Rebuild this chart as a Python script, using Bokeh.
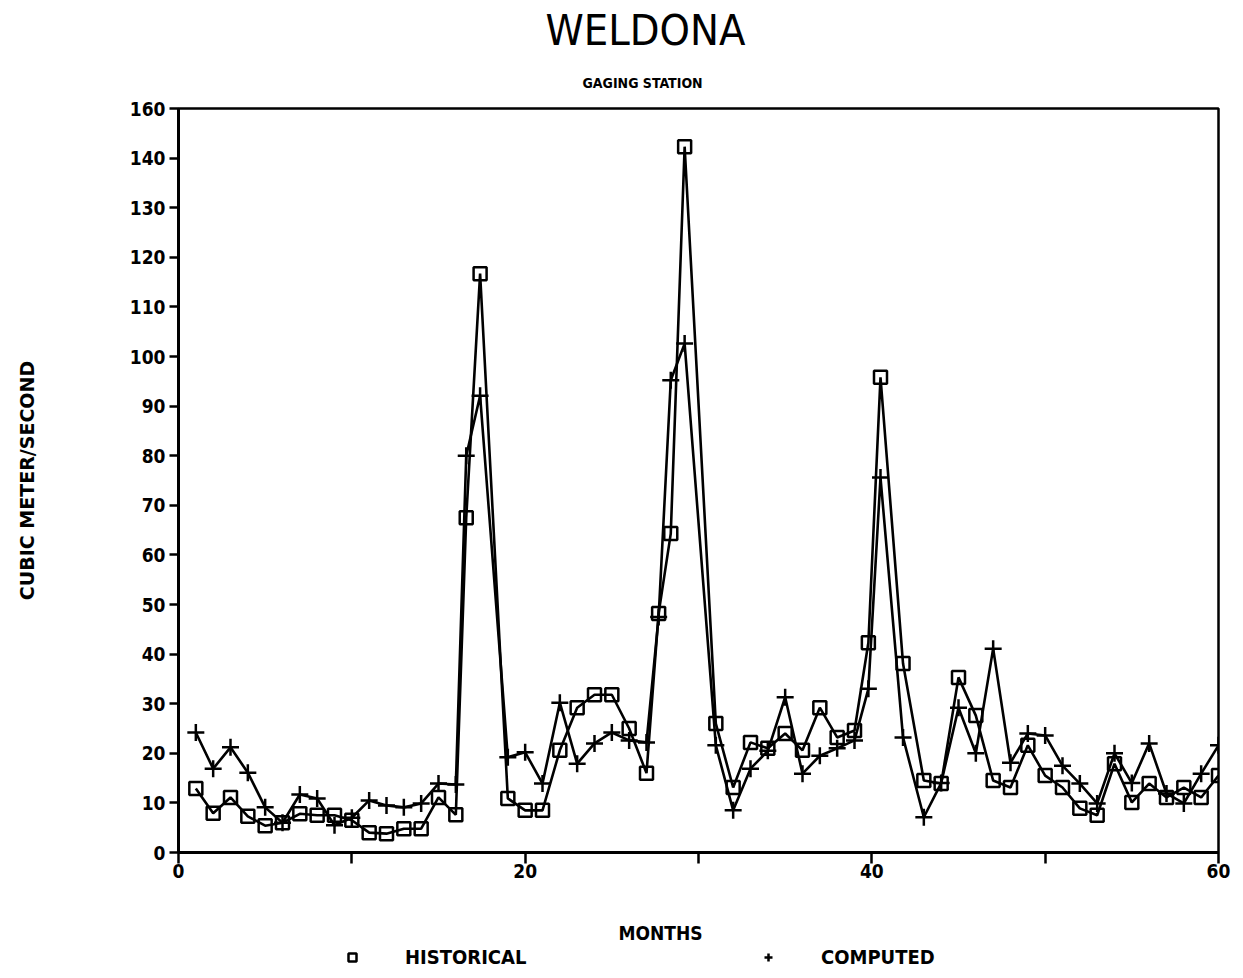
from bokeh.plotting import figure
from bokeh.models import Range1d, FixedTicker, Title, Legend, LegendItem, Label
from bokeh.layouts import column
from bokeh.embed import file_html
from bokeh.resources import INLINE

# ---- data ----
months = [1, 2, 3, 4, 5, 6, 7, 8, 9, 10, 11, 12, 13, 14, 15, 16, 16.6, 17.4, 19, 20,
          21, 22, 23, 24, 25, 26, 27, 27.7, 28.4, 29.2, 31, 32, 33, 34, 35, 36, 37, 38, 39, 39.8,
          40.5, 41.8, 43, 44, 45, 46, 47, 48, 49, 50, 51, 52, 53, 54, 55, 56, 57, 58, 59, 60]
historical = [12.9, 7.9, 11.1, 7.3, 5.4, 6.0, 7.8, 7.5, 7.5, 6.5, 4.0, 3.8, 4.8, 4.8, 11.1, 7.6,
              67.5, 116.7, 10.9, 8.5, 8.5, 20.6, 29.2, 31.8, 31.8, 25.0, 16.0, 48.2, 64.3, 142.3,
              26.0, 13.1, 22.2, 21.0, 24.0, 20.6, 29.2, 23.2, 24.6, 42.3, 95.8, 38.1, 14.5, 13.9,
              35.3, 27.6, 14.5, 13.1, 21.6, 15.5, 13.1, 8.9, 7.5, 17.9, 10.1, 13.9, 11.1, 13.1,
              11.1, 15.5]
computed = [24.2, 16.9, 21.2, 16.1, 9.1, 6.0, 11.7, 10.9, 5.5, 7.0, 10.5, 9.5, 9.1, 9.9, 13.9, 13.7,
            80.0, 92.1, 19.2, 20.2, 13.9, 30.2, 17.9, 22.0, 24.2, 22.6, 22.2, 47.5, 95.2, 102.6,
            21.6, 8.5, 16.9, 20.5, 31.3, 15.9, 19.5, 21.0, 22.6, 33.0, 75.6, 23.2, 7.1, 14.0,
            29.2, 20.0, 41.1, 18.1, 24.0, 23.6, 17.5, 13.9, 9.9, 20.0, 14.0, 22.0, 11.9, 9.9,
            15.9, 21.6]
y_ticks = list(range(0, 151, 10))
y_tick_labels = {v: str(v) for v in y_ticks}
y_tick_labels[150] = "160"          # the original labels its top tick "160"
x_ticks = [0, 10, 20, 30, 40, 50, 60]
x_tick_labels = {0: "0", 10: "", 20: "20", 30: "", 40: "40", 50: "", 60: "60"}
series_names = ["HISTORICAL", "COMPUTED"]

FONT = "Liberation Sans Narrow, DejaVu Sans Condensed, Arial Narrow, sans-serif"
W = 1235
H1, H2 = 890, 80                       # main chart, strip with axis title + legend
FL, FT, FR, FB = 178, 108, 1218, 852   # frame edges in picture pixels

p = figure(width=W, height=H1, output_backend="svg", toolbar_location=None,
           x_range=Range1d(0, 60), y_range=Range1d(0, 150),
           min_border_left=FL, min_border_right=W - FR, min_border_top=FT,
           min_border_bottom=H1 - FB)
p.grid.visible = False
p.outline_line_color = "black"
p.outline_line_width = 2.5
p.background_fill_color = "white"
p.border_fill_color = "white"

# titles: the figure's own title is the outermost one
p.title.text = "WELDONA"
p.title.align = "left"
p.title.offset = 367
p.title.text_font = FONT
p.title.text_font_size = "43px"
p.title.text_font_style = "normal"
p.title.text_color = "black"
p.title.standoff = 0
p.add_layout(Title(text="GAGING STATION", align="left", offset=404, text_font=FONT,
                   text_font_size="14px", text_font_style="bold", text_color="black",
                   standoff=36), "above")

for ax in (p.xaxis[0], p.yaxis[0]):
    ax.axis_line_width = 3
    ax.axis_line_color = "black"
    ax.major_tick_line_width = 2.5
    ax.major_tick_line_color = "black"
    ax.minor_tick_line_color = None
    ax.major_label_text_font = FONT
    ax.major_label_text_font_style = "bold"
    ax.major_label_text_font_size = "19px"
    ax.major_label_text_color = "black"

p.yaxis.ticker = FixedTicker(ticks=y_ticks)
p.yaxis.major_label_overrides = y_tick_labels
p.yaxis.major_tick_out = 9
p.yaxis.major_tick_in = 0
p.yaxis.major_label_standoff = 4
p.yaxis.axis_label = "CUBIC METER/SECOND"
p.yaxis.axis_label_text_font = "DejaVu Sans"
p.yaxis.axis_label_text_font_style = "bold"
p.yaxis.axis_label_text_font_size = "19px"
p.yaxis.axis_label_text_color = "black"
p.yaxis.axis_label_standoff = 89

p.xaxis.ticker = FixedTicker(ticks=x_ticks)
p.xaxis.major_label_overrides = x_tick_labels
p.xaxis.major_tick_out = 11
p.xaxis.major_tick_in = 0
p.xaxis.major_label_standoff = 0

lw = 2.6
p.line(months, historical, line_color="black", line_width=lw)
p.line(months, computed, line_color="black", line_width=lw)
p.scatter(months, historical, marker="square", size=13, fill_color=None,
          line_color="black", line_width=2.5)
p.scatter(months, computed, marker="cross", size=17, line_color="black", line_width=2.5)

# ---- bottom strip: x-axis title and legend (its frame is aligned with the chart's) ----
p2 = figure(width=W, height=H2, output_backend="svg", toolbar_location=None,
            x_range=Range1d(0, 1), y_range=Range1d(0, 1),
            min_border_left=FL, min_border_right=W - FR, min_border_top=0, min_border_bottom=0)
p2.axis.visible = False
p2.grid.visible = False
p2.outline_line_color = None
p2.background_fill_color = "white"
p2.border_fill_color = "white"

strip_bottom = H1 + H2  # page y of the strip's bottom edge
p2.add_layout(Label(x=660 - FL, y=strip_bottom - 932, x_units="screen", y_units="screen",
                    text="MONTHS", text_font=FONT, text_font_size="19px",
                    text_font_style="bold", text_color="black",
                    text_align="center", text_baseline="middle"))

# legend glyph sources: the first point of each series, which lies outside this strip's view
lh = p2.scatter(x=months[:1], y=historical[:1], marker="square", size=13, fill_color=None,
                line_color="black", line_width=2.5)
lc = p2.scatter(x=months[:1], y=computed[:1], marker="cross", size=17,
                line_color="black", line_width=2.5)
legend = Legend(items=[LegendItem(label=series_names[0], renderers=[lh]),
                       LegendItem(label=series_names[1], renderers=[lc])],
                orientation="horizontal", location=(342 - FL, 1),
                border_line_color=None, background_fill_color=None,
                padding=0, margin=0, spacing=120, label_standoff=43,
                glyph_width=20, glyph_height=20, label_width=233, label_height=20,
                label_text_font=FONT, label_text_font_style="bold",
                label_text_font_size="20px", label_text_color="black")
p2.add_layout(legend)

open("out.html", "w").write(file_html(column(p, p2, spacing=0), INLINE))
